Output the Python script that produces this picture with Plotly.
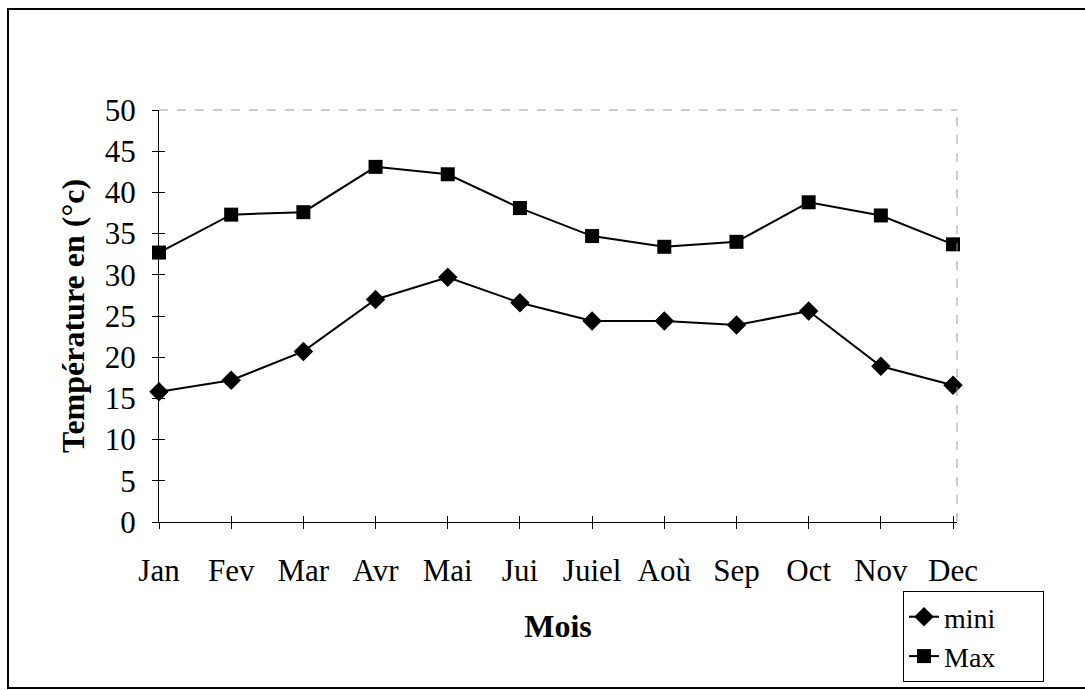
import plotly.graph_objects as go

months = ["Jan", "Fev", "Mar", "Avr", "Mai", "Jui", "Juiel", "Aoù", "Sep", "Oct", "Nov", "Dec"]
mini = [15.8, 17.2, 20.7, 27.0, 29.7, 26.6, 24.4, 24.4, 23.9, 25.6, 18.9, 16.6]
maxi = [32.7, 37.3, 37.6, 43.1, 42.2, 38.1, 34.7, 33.4, 34.0, 38.8, 37.2, 33.7]
y_ticks = list(range(0, 51, 5))

FONT = "Liberation Serif"
L, R, T, B = 159, 128, 110, 168
W, H = 1085, 690
PW, PH = W - L - R, H - T - B
PAD = "\u00a0" * 6

fig = go.Figure()
fig.add_trace(go.Scatter(x=months, y=mini, name="mini" + PAD, mode="lines+markers",
                         line=dict(color="black", width=2),
                         marker=dict(symbol="diamond", size=15, color="black"),
                         cliponaxis=False))
fig.add_trace(go.Scatter(x=months, y=maxi, name="Max" + PAD, mode="lines+markers",
                         line=dict(color="black", width=2),
                         marker=dict(symbol="square", size=14, color="black"),
                         cliponaxis=False))

def px_x(px):
    return (px - L) / PW

def px_y(py):
    return (H - B - py) / PH

shapes = [
    # plot area top/right faint border
    dict(type="line", xref="paper", yref="paper", x0=0, x1=1, y0=1, y1=1,
         line=dict(color="#9a9a9a", width=1, dash="dash")),
    dict(type="line", xref="paper", yref="paper", x0=1, x1=1, y0=0, y1=1,
         line=dict(color="#9a9a9a", width=1, dash="dash")),
    # outer chart border
    dict(type="rect", xref="paper", yref="paper",
         x0=px_x(8), x1=px_x(1095), y0=px_y(688), y1=px_y(9),
         line=dict(color="black", width=2), fillcolor="rgba(0,0,0,0)"),
]

fig.update_layout(
    width=W, height=H,
    margin=dict(l=L, r=R, t=T, b=B, autoexpand=False),
    paper_bgcolor="white", plot_bgcolor="white",
    font=dict(family=FONT, size=31, color="black"),
    showlegend=True,
    legend=dict(x=px_x(903), y=px_y(591), xanchor="left", yanchor="top",
                bordercolor="black", borderwidth=1, bgcolor="white",
                font=dict(family=FONT, size=28, color="black"),
                tracegroupgap=0, itemwidth=30),
    xaxis=dict(type="category", categoryorder="array", categoryarray=months,
               range=[0, 11.055], showline=True, linecolor="black", linewidth=1,
               ticks="outside", ticklen=6, tickcolor="black", tickwidth=1,
               showgrid=False, zeroline=False, ticklabelstandoff=15,
               tickfont=dict(family=FONT, size=31, color="black"),
               title=dict(text="<b>Mois</b>", font=dict(family=FONT, size=32, color="black"),
                          standoff=27)),
    yaxis=dict(range=[0, 50], tickvals=y_ticks, showline=True, linecolor="black", linewidth=1,
               ticks="outside", ticklen=6, tickcolor="black", tickwidth=1,
               showgrid=False, zeroline=False, ticklabelstandoff=10,
               tickfont=dict(family=FONT, size=31, color="black"),
               title=dict(text="<b>Température en (°c)</b>",
                          font=dict(family=FONT, size=32, color="black"), standoff=10)),
    xaxis2=dict(overlaying="x", anchor="y", side="bottom", type="category",
                categoryorder="array", categoryarray=months, range=[0, 11.055],
                showline=False, ticks="inside", ticklen=6, tickcolor="black", tickwidth=1,
                showticklabels=False, showgrid=False, zeroline=False),
    yaxis2=dict(overlaying="y", anchor="x", side="left", range=[0, 50], tickvals=y_ticks,
                showline=False, ticks="inside", ticklen=6, tickcolor="black", tickwidth=1,
                showticklabels=False, showgrid=False, zeroline=False),
    shapes=shapes,
)
# invisible trace to activate the crossing tick overlay axes
fig.add_trace(go.Scatter(x=months, y=[None] * len(months), xaxis="x2", yaxis="y2",
                         showlegend=False, hoverinfo="skip", mode="lines"))

fig.write_html("out.html", config={"displayModeBar": False},
               post_script="document.body.style.margin='0';document.body.style.padding='0';"
                           "document.body.style.overflow='hidden';")
